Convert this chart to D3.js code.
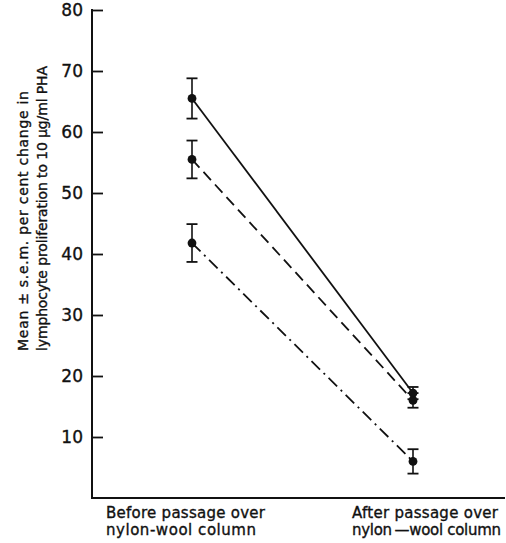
<!DOCTYPE html>
<html>
<head>
<meta charset="utf-8">
<script src="https://cdn.jsdelivr.net/npm/d3@7"></script>
<style>
  html, body { margin: 0; padding: 0; background: #fff; }
  svg { display: block; }
  text { font-family: "DejaVu Sans", sans-serif; fill: #111; stroke: #111; stroke-width: 0.35px; }
</style>
</head>
<body>
<svg id="chart" width="506" height="543"></svg>
<script>
// ---- data ----
const categories = ["Before", "After"];
const categoryLabels = [
  ["Before passage over", "nylon-wool column"],
  ["After passage over", "nylon\u2009\u2014wool column"]
];
const seriesNames = ["solid", "dashed", "dashdot"];
const beforeMeans = [65.5, 55.5, 41.8];
const beforeSem   = [3.3, 3.1, 3.1];
const afterMeans  = [17.2, 16.0, 6.0];
const afterSem    = [1.0, 1.2, 2.0];
const yTicks = [10, 20, 30, 40, 50, 60, 70, 80];
const yTitle = ["Mean \u00b1 s.e.m. per cent change in",
                "lymphocyte proliferation to 10 \u03bcg/ml PHA"];

// ---- layout ----
const svg = d3.select("#chart");
const axisX = 92, axisRight = 505, yTop = 10, yBottom = 498;
const y = d3.scaleLinear().domain([0, 80]).range([yBottom, yTop]);
const x = d3.scalePoint().domain(categories).range([192, 413]);
const dashes = { solid: null, dashed: "11,6", dashdot: "12,5,2,5" };
const labelDx = [-86, -61];
const labelLen = [[159, 150], [146, 149]];
const titleLen = [260, 285];

const series = seriesNames.map((name, i) => ({
  name,
  points: [
    { c: categories[0], v: beforeMeans[i], e: beforeSem[i] },
    { c: categories[1], v: afterMeans[i],  e: afterSem[i] }
  ]
}));

// connecting lines
const line = d3.line().x(d => x(d.c)).y(d => y(d.v));
svg.append("g").selectAll("path").data(series).join("path")
  .attr("d", d => line(d.points))
  .attr("fill", "none")
  .attr("stroke", "#111")
  .attr("stroke-width", 1.8)
  .attr("stroke-dasharray", d => dashes[d.name]);

// error bars and dots
const pts = series.flatMap(s => s.points);
const eb = svg.append("g").attr("stroke", "#111");
eb.selectAll("line.stem").data(pts).join("line")
  .attr("class", "stem")
  .attr("x1", d => x(d.c)).attr("x2", d => x(d.c))
  .attr("y1", d => y(d.v + d.e)).attr("y2", d => y(d.v - d.e))
  .attr("stroke-width", 1.6);
eb.selectAll("line.capT").data(pts).join("line")
  .attr("class", "capT")
  .attr("x1", d => x(d.c) - 5.5).attr("x2", d => x(d.c) + 5.5)
  .attr("y1", d => y(d.v + d.e)).attr("y2", d => y(d.v + d.e))
  .attr("stroke-width", 1.8);
eb.selectAll("line.capB").data(pts).join("line")
  .attr("class", "capB")
  .attr("x1", d => x(d.c) - 5.5).attr("x2", d => x(d.c) + 5.5)
  .attr("y1", d => y(d.v - d.e)).attr("y2", d => y(d.v - d.e))
  .attr("stroke-width", 1.8);
svg.append("g").selectAll("circle").data(pts).join("circle")
  .attr("cx", d => x(d.c)).attr("cy", d => y(d.v))
  .attr("r", 4.4).attr("fill", "#111");

// y axis
const yAxis = d3.axisLeft(y).tickValues(yTicks)
  .tickSizeInner(-11).tickSizeOuter(0).tickPadding(9)
  .tickFormat(d3.format("d"));
const ga = svg.append("g").attr("transform", `translate(${axisX},0)`).call(yAxis);
ga.select(".domain").remove();
ga.selectAll(".tick line").attr("stroke", "#111").attr("stroke-width", 1.8);
ga.selectAll(".tick text")
  .style("font-family", "DejaVu Sans, sans-serif")
  .style("font-size", "17px").attr("fill", "#111");
svg.append("line")
  .attr("x1", axisX).attr("x2", axisX)
  .attr("y1", y(80) - 1).attr("y2", y(0) + 1)
  .attr("stroke", "#111").attr("stroke-width", 2);

// x axis
svg.append("line")
  .attr("x1", axisX - 1).attr("x2", axisRight)
  .attr("y1", y(0)).attr("y2", y(0))
  .attr("stroke", "#111").attr("stroke-width", 2);

// category labels
const cl = svg.append("g").selectAll("text").data(categories).join("text")
  .attr("x", (d, i) => x(d) + labelDx[i])
  .attr("y", 518)
  .style("font-size", "15px");
cl.each(function (d, i) {
  const t = d3.select(this);
  categoryLabels[i].forEach((s, k) => {
    t.append("tspan").attr("x", x(d) + labelDx[i]).attr("dy", k === 0 ? 0 : 17)
      .attr("textLength", labelLen[i][k]).attr("lengthAdjust", "spacing")
      .text(s);
  });
});

// y title
const yt = svg.append("g").attr("transform", "translate(0,351) rotate(-90)");
yt.selectAll("text").data(yTitle).join("text")
  .attr("x", 0)
  .attr("y", (d, i) => [28, 47][i])
  .attr("textLength", (d, i) => titleLen[i])
  .attr("lengthAdjust", "spacing")
  .style("font-size", "14px")
  .text(d => d);
</script>
</body>
</html>
